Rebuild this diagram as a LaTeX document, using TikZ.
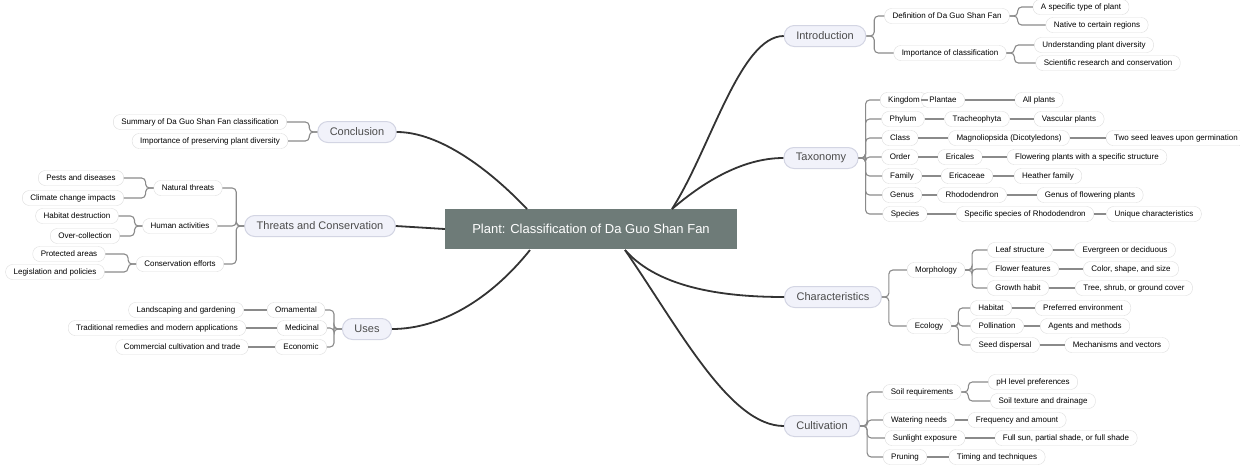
\documentclass[tikz,border=0pt]{standalone}
\usepackage{fontspec}
\setsansfont{Liberation Sans}
\usepackage{xcolor}
\usepackage{tikz}
\usetikzlibrary{positioning}
\definecolor{rootgray}{HTML}{6E7B78}
\definecolor{topicfill}{HTML}{F1F2FA}
\definecolor{topicline}{HTML}{D3D5E3}
\definecolor{leafline}{HTML}{DDDDDD}
\definecolor{linkgray}{HTML}{8A8A8A}
\definecolor{trunkgray}{HTML}{333333}

\begin{document}
\begin{tikzpicture}[x=1pt, y=-1pt, every node/.style={font=\sffamily, align=center},
  rootbox/.style={rectangle, fill=rootgray, text=white, minimum width=292pt, minimum height=40pt, font=\sffamily\fontsize{13}{15}\selectfont},
  topic/.style={rectangle, rounded corners=10pt, draw=topicline, line width=1pt, fill=topicfill, text=black!70, minimum height=21pt, inner xsep=12pt, font=\sffamily\fontsize{11}{13}\selectfont},
  leaf/.style={rectangle, rounded corners=7pt, draw=leafline, fill=white, minimum height=15pt, inner xsep=8pt, inner ysep=2pt, font=\sffamily\fontsize{8}{9}\selectfont},
  link/.style={draw=linkgray, line width=1.1pt, rounded corners=4pt},
  trunk/.style={draw=trunkgray, line width=1.8pt}]
\useasboundingbox (0,0) rectangle (1240,464);
% Root
\node[rootbox] (root) at (591,229) {Plant: Classification of Da Guo Shan Fan};
% Main topics
\node[topic] (intro) at (825,36) {Introduction};
\node[topic] (tax) at (821,158) {Taxonomy};
\node[topic] (char) at (833,297) {Characteristics};
\node[topic] (cult) at (822,426) {Cultivation};
\node[topic] (concl) at (357,132) {Conclusion};
\node[topic] (threat) at (320,226) {Threats and Conservation};
\node[topic] (uses) at (367,329) {Uses};
% Trunk curves
\coordinate (rA) at (672,209);
\coordinate (rB) at (625,250);
\coordinate (rC) at (527,209);
\coordinate (rD) at (530,250);
\draw[trunk] (rA) .. controls (710,150) and (740,36) .. (intro.west);
\draw[trunk] (rA) .. controls (700,185) and (740,158) .. (tax.west);
\draw[trunk] (rB) .. controls (660,290) and (730,297) .. (char.west);
\draw[trunk] (rB) .. controls (680,330) and (730,426) .. (cult.west);
\draw[trunk] (rC) .. controls (490,170) and (440,132) .. (concl.east);
\draw[trunk] (root.west) -- (threat.east);
\draw[trunk] (rD) .. controls (490,300) and (440,329) .. (uses.east);
% Introduction
\node[leaf] (def) at (947,16) {Definition of Da Guo Shan Fan};
\node[leaf] (def1) at (1081,7) {A specific type of plant};
\node[leaf] (def2) at (1097,25) {Native to certain regions};
\node[leaf] (imp) at (950,53) {Importance of classification};
\node[leaf] (imp1) at (1094,45) {Understanding plant diversity};
\node[leaf] (imp2) at (1108,63) {Scientific research and conservation};
\foreach \c in {def,imp} \draw[link] (intro.east) -- ++(8,0) |- (\c.west);
\foreach \c in {def1,def2} \draw[link] (def.east) -- ++(8,0) |- (\c.west);
\foreach \c in {imp1,imp2} \draw[link] (imp.east) -- ++(8,0) |- (\c.west);
% Taxonomy
\node[leaf] (kin) at (904,100) {Kingdom};
\node[leaf] (kin1) at (943,100) {Plantae};
\node[leaf] (kin2) at (1039,100) {All plants};
\node[leaf] (phy) at (903,119) {Phylum};
\node[leaf] (phy1) at (977,119) {Tracheophyta};
\node[leaf] (phy2) at (1069,119) {Vascular plants};
\node[leaf] (cla) at (900,138) {Class};
\node[leaf] (cla1) at (1009,138) {Magnoliopsida (Dicotyledons)};
\node[leaf] (cla2) at (1176,138) {Two seed leaves upon germination};
\node[leaf] (ord) at (900,157) {Order};
\node[leaf] (ord1) at (960,157) {Ericales};
\node[leaf] (ord2) at (1087,157) {Flowering plants with a specific structure};
\node[leaf] (fam) at (902,176) {Family};
\node[leaf] (fam1) at (967,176) {Ericaceae};
\node[leaf] (fam2) at (1048,176) {Heather family};
\node[leaf] (gen) at (902,195) {Genus};
\node[leaf] (gen1) at (972,195) {Rhododendron};
\node[leaf] (gen2) at (1090,195) {Genus of flowering plants};
\node[leaf] (spe) at (905,214) {Species};
\node[leaf] (spe1) at (1025,214) {Specific species of Rhododendron};
\node[leaf] (spe2) at (1154,214) {Unique characteristics};
\foreach \c in {kin,phy,cla,ord,fam,gen,spe} {
  \draw[link] (tax.east) -- ++(7,0) |- (\c.west);
  \draw[link] (\c.east) -- (\c1.west);
  \draw[link] (\c1.east) -- (\c2.west);
}
% Characteristics
\node[leaf] (mor) at (936,270) {Morphology};
\node[leaf] (mor1) at (1020,250) {Leaf structure};
\node[leaf] (mor1b) at (1125,250) {Evergreen or deciduous};
\node[leaf] (mor2) at (1023,269) {Flower features};
\node[leaf] (mor2b) at (1131,269) {Color, shape, and size};
\node[leaf] (mor3) at (1018,288) {Growth habit};
\node[leaf] (mor3b) at (1134,288) {Tree, shrub, or ground cover};
\node[leaf] (eco) at (929,326) {Ecology};
\node[leaf] (eco1) at (991,308) {Habitat};
\node[leaf] (eco1b) at (1083,308) {Preferred environment};
\node[leaf] (eco2) at (997,326) {Pollination};
\node[leaf] (eco2b) at (1085,326) {Agents and methods};
\node[leaf] (eco3) at (1005,345) {Seed dispersal};
\node[leaf] (eco3b) at (1117,345) {Mechanisms and vectors};
\foreach \c in {mor,eco} \draw[link] (char.east) -- ++(7,0) |- (\c.west);
\foreach \c in {mor1,mor2,mor3} {
  \draw[link] (mor.east) -- ++(7,0) |- (\c.west);
  \draw[link] (\c.east) -- (\c b.west);
}
\foreach \c in {eco1,eco2,eco3} {
  \draw[link] (eco.east) -- ++(7,0) |- (\c.west);
  \draw[link] (\c.east) -- (\c b.west);
}
% Cultivation
\node[leaf] (soil) at (922,392) {Soil requirements};
\node[leaf] (soil1) at (1033,382) {pH level preferences};
\node[leaf] (soil2) at (1043,401) {Soil texture and drainage};
\node[leaf] (wat) at (919,420) {Watering needs};
\node[leaf] (wat1) at (1017,420) {Frequency and amount};
\node[leaf] (sun) at (925,438) {Sunlight exposure};
\node[leaf] (sun1) at (1066,438) {Full sun, partial shade, or full shade};
\node[leaf] (pru) at (905,457) {Pruning};
\node[leaf] (pru1) at (997,457) {Timing and techniques};
\foreach \c in {soil,wat,sun,pru} \draw[link] (cult.east) -- ++(7,0) |- (\c.west);
\foreach \c in {soil1,soil2} \draw[link] (soil.east) -- ++(7,0) |- (\c.west);
\foreach \c in {wat,sun,pru} \draw[link] (\c.east) -- (\c1.west);
% Conclusion
\node[leaf] (sum) at (200,122) {Summary of Da Guo Shan Fan classification};
\node[leaf] (pres) at (210,141) {Importance of preserving plant diversity};
\foreach \c in {sum,pres} \draw[link] (concl.west) -- ++(-8,0) |- (\c.east);
% Threats and Conservation
\node[leaf] (nat) at (188,188) {Natural threats};
\node[leaf] (nat1) at (81,178) {Pests and diseases};
\node[leaf] (nat2) at (73,198) {Climate change impacts};
\node[leaf] (hum) at (180,226) {Human activities};
\node[leaf] (hum1) at (77,216) {Habitat destruction};
\node[leaf] (hum2) at (85,236) {Over-collection};
\node[leaf] (con) at (180,264) {Conservation efforts};
\node[leaf] (con1) at (69,254) {Protected areas};
\node[leaf] (con2) at (55,272) {Legislation and policies};
\foreach \c in {nat,hum,con} {
  \draw[link] (threat.west) -- ++(-8,0) |- (\c.east);
  \draw[link] (\c.west) -- ++(-8,0) |- (\c1.east);
  \draw[link] (\c.west) -- ++(-8,0) |- (\c2.east);
}
% Uses
\node[leaf] (orn) at (296,310) {Ornamental};
\node[leaf] (orn1) at (186,310) {Landscaping and gardening};
\node[leaf] (med) at (302,328) {Medicinal};
\node[leaf] (med1) at (157,328) {Traditional remedies and modern applications};
\node[leaf] (eco4) at (301,347) {Economic};
\node[leaf] (eco41) at (182,347) {Commercial cultivation and trade};
\foreach \c in {orn,med,eco4} {
  \draw[link] (uses.west) -- ++(-8,0) |- (\c.east);
  \draw[link] (\c.west) -- (\c1.east);
}
\end{tikzpicture}
\end{document}
